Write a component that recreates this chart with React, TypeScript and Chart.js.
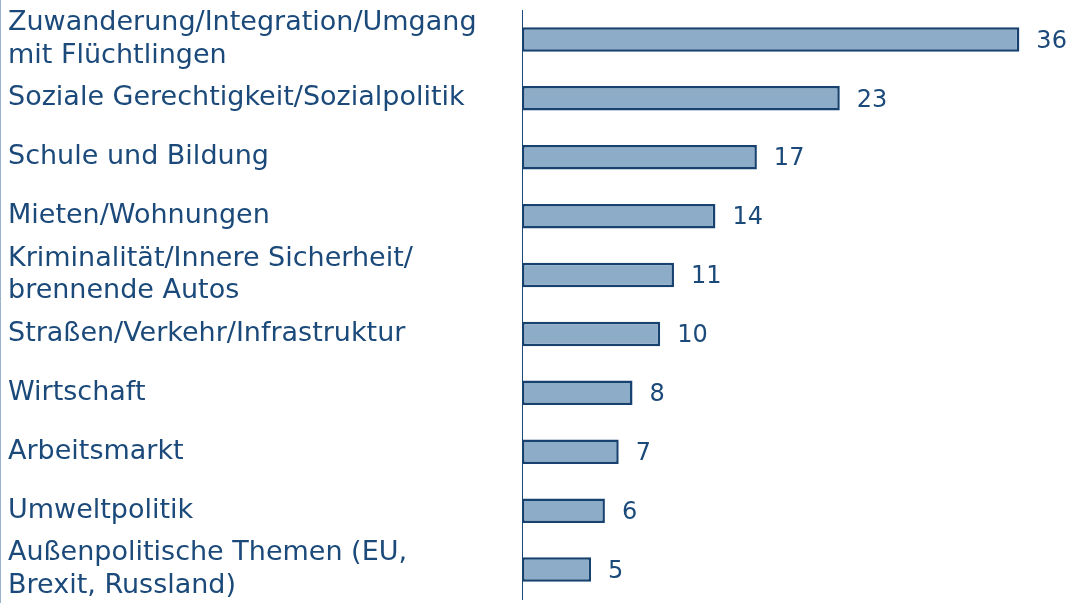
import React, { useEffect, useRef } from "react";
import { Chart, registerables } from "chart.js";

Chart.register(...registerables);

const categories: (string | string[])[] = [
  ["Zuwanderung/Integration/Umgang", "mit Flüchtlingen"],
  "Soziale Gerechtigkeit/Sozialpolitik",
  "Schule und Bildung",
  "Mieten/Wohnungen",
  ["Kriminalität/Innere Sicherheit/", "brennende Autos"],
  "Straßen/Verkehr/Infrastruktur",
  "Wirtschaft",
  "Arbeitsmarkt",
  "Umweltpolitik",
  ["Außenpolitische Themen (EU,", "Brexit, Russland)"],
];

const values: number[] = [36, 23, 17, 14, 11, 10, 8, 7, 6, 5];

const NAVY = "#1B4A7A";
const BORDER = "#17426F";
const FILL = "#8CACC8";
const FONT = "'DejaVu Sans', Verdana, sans-serif";

const valueLabels = {
  id: "valueLabels",
  afterDatasetsDraw(chart: any) {
    const ctx = chart.ctx;
    const meta = chart.getDatasetMeta(0);
    ctx.save();
    ctx.font = `24px ${FONT}`;
    ctx.fillStyle = NAVY;
    ctx.textAlign = "left";
    ctx.textBaseline = "middle";
    meta.data.forEach((bar: any, i: number) => {
      ctx.fillText(String(values[i]), bar.x + 17, bar.y + 2);
    });
    ctx.restore();
  },
};

const leftRule = {
  id: "leftRule",
  beforeDraw(chart: any) {
    const ctx = chart.ctx;
    ctx.save();
    ctx.strokeStyle = "#9AB0CC";
    ctx.lineWidth = 1;
    ctx.beginPath();
    ctx.moveTo(0.5, 0);
    ctx.lineTo(0.5, chart.height);
    ctx.stroke();
    ctx.restore();
  },
};

export default function App() {
  const ref = useRef<HTMLCanvasElement | null>(null);

  useEffect(() => {
    document.body.style.margin = "0";
    if (!ref.current) return;
    const chart = new Chart(ref.current, {
      type: "bar",
      data: {
        labels: categories as any,
        datasets: [
          {
            data: values,
            backgroundColor: FILL,
            borderColor: BORDER,
            borderWidth: 2.5,
            borderSkipped: false,
            categoryPercentage: 0.8,
            barPercentage: 0.52,
          },
        ],
      },
      options: {
        indexAxis: "y",
        animation: false,
        responsive: false,
        maintainAspectRatio: false,
        layout: { padding: { top: 10, bottom: 4, left: 8, right: 23 } },
        plugins: {
          legend: { display: false },
          tooltip: { enabled: false },
        },
        scales: {
          x: { display: false, min: 0, max: 38 },
          y: {
            grid: { display: false, drawTicks: false },
            border: { display: true, color: NAVY, width: 1 },
            ticks: {
              autoSkip: false,
              crossAlign: "far",
              color: NAVY,
              font: { family: FONT, size: 27, lineHeight: 1.2 },
              padding: 0,
            },
            afterFit(scale: any) {
              scale.width = 514;
              scale.paddingTop = 0;
              scale.paddingBottom = 0;
            },
          },
        },
      },
      plugins: [valueLabels, leftRule],
    });
    return () => chart.destroy();
  }, []);

  return (
    <div style={{ width: 1070, height: 603 }}>
      <canvas ref={ref} width={1070} height={603} style={{ display: "block" }} />
    </div>
  );
}
